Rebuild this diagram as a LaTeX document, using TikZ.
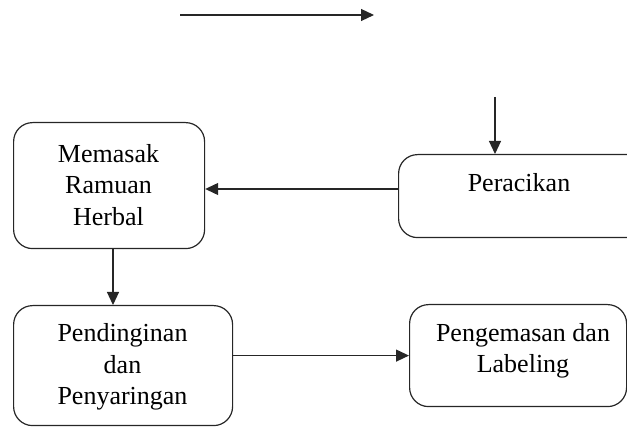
\documentclass[tikz,border=0pt]{standalone}
\usepackage{fontspec}
\setmainfont{Liberation Serif}
\usetikzlibrary{arrows.meta}
\begin{document}
\begin{tikzpicture}[x=1pt,y=-1pt,
  box/.style={draw=black!85,line width=1.2pt,rounded corners=19pt,inner sep=0pt,anchor=north west},
  txt/.style={align=center,font=\fontsize{26}{31.5}\selectfont,inner sep=0pt},
  arr/.style={draw=black!85,line width=1.2pt,-{Triangle[length=13pt,width=12pt]}}]
\useasboundingbox (0,0) rectangle (627,427);
% boxes
\node[box,minimum width=191pt,minimum height=126pt] (mem) at (13,122) {};
\node[txt] (memt) at (108.5,185) {Memasak\\Ramuan\\Herbal};
\node[box,minimum width=250pt,minimum height=83pt] (per) at (398,154) {};
\node[txt] (pert) at (519,183) {Peracikan};
\node[box,minimum width=219pt,minimum height=120pt] (pend) at (13,305) {};
\node[txt] (pendt) at (122.5,367) {Pendinginan\\dan\\Penyaringan};
\node[box,minimum width=217pt,minimum height=102pt] (peng) at (409,304) {};
\node[txt] (pengt) at (523,351) {Pengemasan dan\\Labeling};
% connectors
\coordinate (t1) at (180,15);
\coordinate (t2) at (374,15);
\draw[arr] (t1) -- (t2);
\coordinate (ptop) at (495,97);
\draw[arr] (ptop) -- (ptop |- per.north);
\coordinate (h1) at (0,189);
\draw[arr] (per.west |- h1) -- (mem.east |- h1);
\coordinate (v1) at (113,0);
\draw[arr] (mem.south -| v1) -- (pend.north -| v1);
\draw[arr] (pend.east |- peng.west) -- (peng.west);
\end{tikzpicture}
\end{document}
